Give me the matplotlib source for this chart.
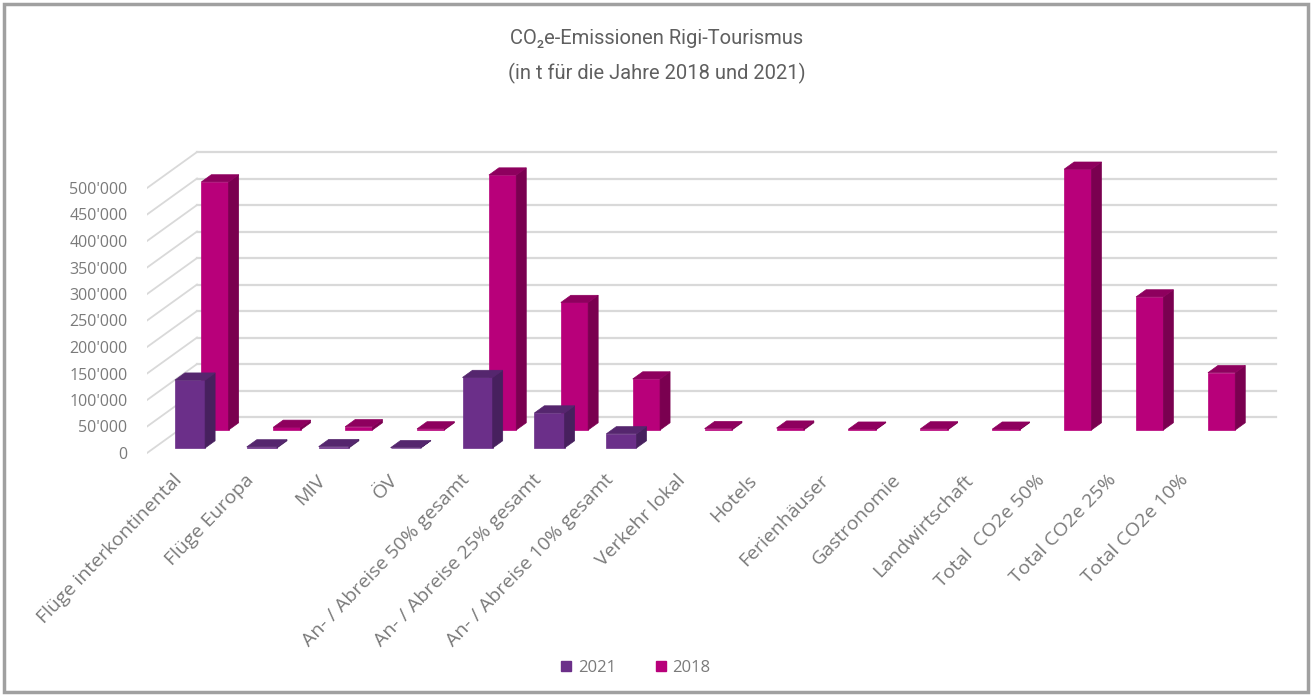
import numpy as np
import matplotlib
matplotlib.use("Agg")
import matplotlib.pyplot as plt
import matplotlib.transforms as mtransforms
from matplotlib.patches import Polygon, Patch, Rectangle

plt.rcParams['font.family'] = ['Open Sans', 'DejaVu Sans']

# data (t CO2e)
categories = ["Flüge interkontinental", "Flüge Europa", "MIV", "ÖV",
              "An- / Abreise 50% gesamt", "An- / Abreise 25% gesamt",
              "An- / Abreise 10% gesamt", "Verkehr lokal", "Hotels",
              "Ferienhäuser", "Gastronomie", "Landwirtschaft",
              "Total  CO2e 50%", "Total CO2e 25%", "Total CO2e 10%"]
values_2021 = [128000, 2000, 2500, 500, 133000, 66000, 26600,
               np.nan, np.nan, np.nan, np.nan, np.nan, np.nan, np.nan, np.nan]
values_2018 = [468000, 5000, 6000, 2000, 481000, 240500, 96200,
               2500, 3500, 1500, 2000, 1500, 492000, 251000, 108000]
ytick_values = list(range(0, 500001, 50000))
series_labels = ["2021", "2018"]

# fake 3d geometry (front plane px -> data mapping)
PX_CAT = 71.9          # px per category
PX_VAL = 50000 / 26.5  # t per px
DX = 50 / PX_CAT       # depth shift per unit depth (categories)
DY = 36 * PX_VAL       # depth shift per unit depth (t)

W, H = 1314, 696
fig = plt.figure(figsize=(W / 100, H / 100), dpi=100)

def px_to_data(px, py):
    return (px - 183) / PX_CAT, (453 - py) * PX_VAL

left, right, top, bottom = 147, 1290, 140, 462
ax = fig.add_axes([left / W, 1 - bottom / H, (right - left) / W, (bottom - top) / H])
x0, y0 = px_to_data(left, bottom)
x1, y1 = px_to_data(right, top)
ax.set_xlim(x0, x1)
ax.set_ylim(y0, y1)
for s in ax.spines.values():
    s.set_visible(False)

grid_c = '#d9d9d9'
for v in ytick_values:
    ax.plot([-0.5, -0.5 + DX], [v, v + DY], color=grid_c, lw=1.3, zorder=0)
    ax.plot([-0.5 + DX, len(categories) - 0.5 + DX], [v + DY, v + DY],
            color=grid_c, lw=1.6, zorder=0)

def draw_row(vals, depth, width, front, side, topc, z):
    xs = np.arange(len(vals))
    for i, v in zip(xs, vals):
        if np.isnan(v):
            continue
        xc = i + depth * DX
        yb = depth * DY
        ax.bar(xc, v, width=width, bottom=yb, color=front, zorder=z,
               edgecolor=front, linewidth=0.5)
        t = 0.2
        xl, xr = xc - width / 2, xc + width / 2
        side_pts = [(xr, yb), (xr + t * DX, yb + t * DY),
                    (xr + t * DX, yb + v + t * DY), (xr, yb + v)]
        top_pts = [(xl, yb + v), (xr, yb + v),
                   (xr + t * DX, yb + v + t * DY), (xl + t * DX, yb + v + t * DY)]
        ax.add_patch(Polygon(side_pts, closed=True, fc=side, ec=side, lw=0.5, zorder=z))
        ax.add_patch(Polygon(top_pts, closed=True, fc=topc, ec=topc, lw=0.5, zorder=z))

c18 = ('#B8007A', '#7A0050', '#8E005E')
c21 = ('#6B2F89', '#47205E', '#55266E')
draw_row(values_2018, 0.64, 0.38, *c18, z=2)
draw_row(values_2021, 0.14, 0.42, *c21, z=3)

txt_c = '#7a7a7a'
ax.set_yticks(ytick_values)
ax.set_yticklabels([f"{v:,}".replace(",", "'") for v in ytick_values],
                   fontsize=11.5, color=txt_c)
ax.tick_params(axis='y', length=0, pad=14)
ax.set_xticks(np.arange(len(categories)))
ax.set_xticklabels(categories, rotation=46, ha='right', va='center',
                   rotation_mode='anchor', fontsize=14, color=txt_c)
ax.tick_params(axis='x', length=0, pad=11)
shift = mtransforms.ScaledTranslation(-4 / 100, 0, fig.dpi_scale_trans)
for lab in ax.get_xticklabels():
    lab.set_transform(lab.get_transform() + shift)

title_font = ['Roboto', 'DejaVu Sans']
fig.text(0.5, 1 - 38 / H, "CO\u2082e-Emissionen Rigi-Tourismus",
         ha='center', va='center', fontsize=14.5, color='#5f5f5f', family=title_font)
fig.text(0.5, 1 - 73 / H, "(in t für die Jahre 2018 und 2021)",
         ha='center', va='center', fontsize=14.5, color='#5f5f5f', family=title_font)

handles = [Patch(color=c21[0], label=series_labels[0]),
           Patch(color=c18[0], label=series_labels[1])]
fig.legend(handles=handles, loc='center', bbox_to_anchor=(636 / W, 1 - 668 / H),
           ncol=2, frameon=False, fontsize=12, handlelength=0.6, handleheight=0.6,
           handletextpad=0.4, columnspacing=2.4, labelcolor=txt_c)

fig.patches.append(Rectangle((4 / W, 4 / H), (W - 10) / W, (H - 8) / H,
                             transform=fig.transFigure, fill=False,
                             ec='#a0a0a0', lw=2.5))

fig.savefig("out.png", dpi=100)
